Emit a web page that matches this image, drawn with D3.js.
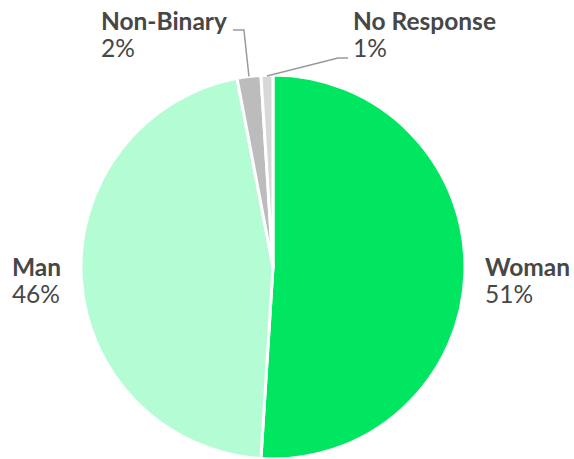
<!DOCTYPE html>
<html>
<head>
<meta charset="utf-8">
<script src="https://cdn.jsdelivr.net/npm/d3@7"></script>
<style>
  body { margin: 0; background: #fff; }
  svg text { font-family: Lato, sans-serif; font-size: 24.5px; fill: #474747; }
  .name { font-weight: bold; }
</style>
</head>
<body>
<svg id="chart" width="574" height="459"></svg>
<script>
var categories = ["Woman", "Man", "Non-Binary", "No Response"];
var values = [51, 46, 2, 1];
var colors = ["#00e660", "#b3fcd4", "#bcbcbc", "#d8d8d8"];

var width = 574, height = 459,
    cx = 273, cy = 267, radius = 192;

var svg = d3.select("#chart");
var g = svg.append("g").attr("transform", "translate(" + cx + "," + cy + ")");

var pie = d3.pie().sort(null).value(function(d) { return d.value; });
var arc = d3.arc().innerRadius(0).outerRadius(radius);
var edge = d3.arc().innerRadius(radius).outerRadius(radius);

var data = categories.map(function(c, i) { return { name: c, value: values[i], color: colors[i] }; });
var arcs = pie(data);

g.selectAll("path.slice")
  .data(arcs)
  .enter().append("path")
    .attr("class", "slice")
    .attr("d", arc)
    .attr("fill", function(d) { return d.data.color; })
    .attr("stroke", "#fff")
    .attr("stroke-width", 3)
    .attr("stroke-linejoin", "round");

// label placement: big slices sit beside the pie, small ones get a leader line
function mid(d) { return (d.startAngle + d.endAngle) / 2; }

arcs.forEach(function(d) {
  var a = mid(d), p = edge.centroid(d);
  var lbl = g.append("g");
  var x, y, anchor;
  if (d.data.value > 10) {
    var right = Math.sin(a) > 0;
    x = right ? radius + 20 : -(radius + 20);
    y = 9;
    anchor = right ? "start" : "end";
  } else if (Math.sin(a) < -0.05) {
    // leader up then left
    var bend = [p[0] - 5, -237], end = [bend[0] - 11, -237];
    g.append("polyline")
      .attr("points", [p, bend, end].map(function(q) { return q.join(","); }).join(" "))
      .attr("fill", "none").attr("stroke", "#9a9a9a").attr("stroke-width", 1.5);
    x = end[0] - 6; y = -237;
    anchor = "end";
  } else {
    var bend2 = [65, -209], end2 = [75, -209];
    g.append("polyline")
      .attr("points", [[p[0], p[1] + 1], bend2, end2].map(function(q) { return q.join(","); }).join(" "))
      .attr("fill", "none").attr("stroke", "#9a9a9a").attr("stroke-width", 1.5);
    x = end2[0] + 5; y = -237;
    anchor = "start";
  }
  var t1 = lbl.append("text").attr("class", "name").attr("x", x).attr("y", y).text(d.data.name);
  var t2 = lbl.append("text").attr("x", x).attr("y", y + 27).text(d3.format("d")(d.data.value) + "%");
  if (anchor === "end") {
    // left-align both lines inside a block ending at x
    var w = Math.max(t1.node().getComputedTextLength(), t2.node().getComputedTextLength());
    t1.attr("x", x - w); t2.attr("x", x - w);
  }
});
</script>
</body>
</html>
